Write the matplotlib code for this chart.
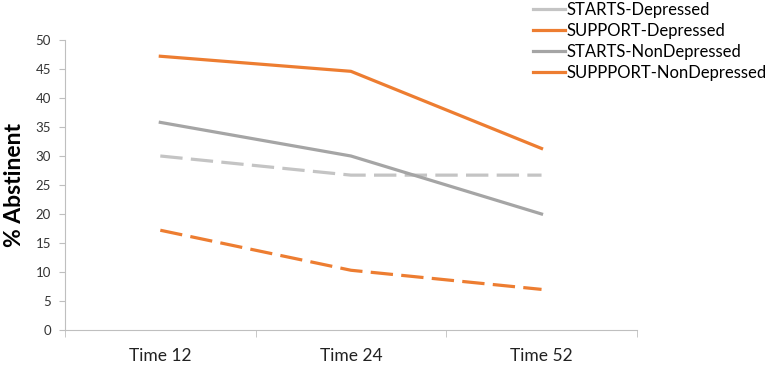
import matplotlib.pyplot as plt
from matplotlib.lines import Line2D

plt.rcParams['font.family'] = ['Lato', 'DejaVu Sans']

categories = ["Time 12", "Time 24", "Time 52"]
series_names = ["STARTS-Depressed", "SUPPORT-Depressed",
                "STARTS-NonDepressed", "SUPPPORT-NonDepressed"]
starts_dep = [30.0, 26.7, 26.7]
support_dep = [17.2, 10.3, 7.0]
starts_nondep = [35.8, 30.0, 20.0]
support_nondep = [47.2, 44.6, 31.3]

light_gray = "#c4c4c4"
gray = "#a5a5a5"
orange = "#ed7d31"
axis_color = "#bfbfbf"

fig = plt.figure(figsize=(7.71, 3.65), dpi=100)
ax = fig.add_axes([0.0843, 0.0959, 0.7417, 0.7945])

x = list(range(len(categories)))
dash = (7, 2.6)
ax.plot(x, starts_dep, color=light_gray, lw=2.3, dashes=dash)
ax.plot(x, support_dep, color=orange, lw=2.3, dashes=dash)
ax.plot(x, starts_nondep, color=gray, lw=2.3)
ax.plot(x, support_nondep, color=orange, lw=2.3)

ax.set_xlim(-0.5, 2.5)
ax.set_ylim(0, 50)
ax.set_yticks(range(0, 51, 5))
ax.set_xticks(x)
ax.set_xticklabels(categories)
ax.set_xticks([-0.5, 0.5, 1.5, 2.5], minor=True)
ax.tick_params(axis='x', which='major', length=0, pad=13, labelsize=12.5, labelcolor="#222222")
ax.tick_params(axis='x', which='minor', length=5, color=axis_color, direction='out')
ax.tick_params(axis='y', length=4, color=axis_color, labelsize=9.5, labelcolor="#333333", pad=6)

for side in ["top", "right"]:
    ax.spines[side].set_visible(False)
for side in ["left", "bottom"]:
    ax.spines[side].set_color(axis_color)

ax.set_ylabel("% Abstinent", fontsize=16.5, fontweight="bold")
ax.yaxis.set_label_coords(-0.07, 0.5)

handles = [Line2D([], [], color=light_gray, lw=2.3),
           Line2D([], [], color=orange, lw=2.3),
           Line2D([], [], color=gray, lw=2.3),
           Line2D([], [], color=orange, lw=2.3)]
fig.legend(handles, series_names, loc="upper left", bbox_to_anchor=(0.672, 1.035),
           frameon=False, fontsize=12, handlelength=1.9, handletextpad=0.1,
           labelspacing=0.3)

fig.savefig("out.png", dpi=100)
